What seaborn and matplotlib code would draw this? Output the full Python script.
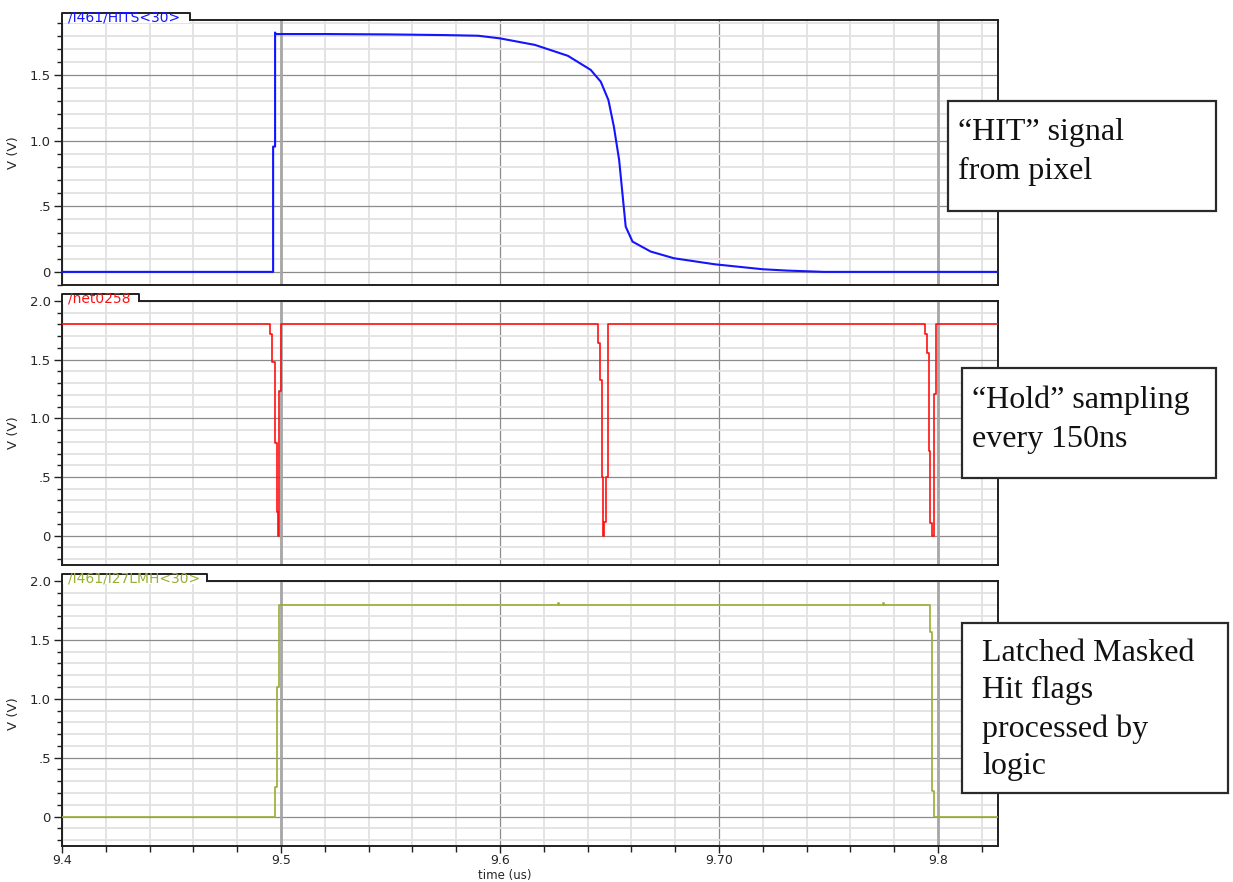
import matplotlib
matplotlib.use("Agg")
import matplotlib.pyplot as plt
import seaborn as sns
import pandas as pd
from matplotlib.patches import Rectangle
from matplotlib.lines import Line2D
from matplotlib.ticker import MultipleLocator, FixedLocator, FixedFormatter

# ---- waveform data (time in us, voltage in V) ----
hits_t = [9.4, 9.4964, 9.4964, 9.4973, 9.4973, 9.4976, 9.52, 9.55, 9.575, 9.59,
          9.6, 9.616, 9.631, 9.6414, 9.646, 9.6495, 9.652, 9.6544, 9.6562, 9.6574,
          9.6605, 9.6688, 9.6794, 9.698, 9.72, 9.731, 9.748, 9.8274]
hits_v = [0.0, 0.0, 0.955, 0.955, 1.825, 1.813, 1.813, 1.81, 1.805, 1.80,
          1.78, 1.73, 1.647, 1.54, 1.45, 1.31, 1.107, 0.853, 0.548, 0.345,
          0.231, 0.155, 0.104, 0.058, 0.02, 0.01, 0.0, 0.0]

hold_t = [9.4, 9.4950, 9.4960, 9.4971, 9.4980, 9.4986, 9.4992, 9.4999,
          9.64486, 9.64575, 9.6465, 9.6471, 9.6476, 9.6482, 9.6491,
          9.7941, 9.7949, 9.7958, 9.7965, 9.7973, 9.7983, 9.7991, 9.8274]
hold_v = [1.8, 1.72, 1.48, 0.79, 0.20, 0.0, 1.23, 1.8,
          1.64, 1.33, 0.50, 0.0, 0.12, 0.5, 1.8,
          1.72, 1.56, 0.72, 0.11, 0.0, 1.21, 1.8, 1.8]

lmh_t = [9.4, 9.49727, 9.49832, 9.4991, 9.6264, 9.6268, 9.775, 9.7754,
         9.7965, 9.7973, 9.7980, 9.8274]
lmh_v = [0.0, 0.255, 1.10, 1.80, 1.81, 1.80, 1.81, 1.80,
         1.57, 0.22, 0.0, 0.0]

signal_names = ["/I461/HITS<30>", "/net0258", "/I461/I27LMH<30>"]
signal_colors = ["#1414ff", "#ff1010", "#96b032"]

x_ticks = [9.4, 9.5, 9.6, 9.7, 9.8]
x_tick_labels = ["9.4", "9.5", "9.6", "9.70", "9.8"]
y_ticks_top = [0.0, 0.5, 1.0, 1.5]
y_labels_top = ["0", ".5", "1.0", "1.5"]
y_ticks = [0.0, 0.5, 1.0, 1.5, 2.0]
y_labels = ["0", ".5", "1.0", "1.5", "2.0"]

notes = ["\u201cHIT\u201d signal\nfrom pixel",
         "\u201cHold\u201d sampling\nevery 150ns",
         "Latched Masked\nHit flags\nprocessed by\nlogic"]

# ---- figure ----
W, H = 1233, 882
sns.set_theme(style="ticks")
plt.rcParams["font.family"] = ["DejaVu Sans"]

fig = plt.figure(figsize=(W / 100, H / 100), dpi=100)
fig.patch.set_facecolor("white")


def fx(px):
    return px / W


def fy(py):
    return 1 - py / H


# panel boxes in pixels: (top, bottom)
panel_px = [(20, 285), (301, 565), (581, 846)]
left_px, right_px = 62, 998
axes = []
for top, bot in panel_px:
    ax = fig.add_axes([fx(left_px), fy(bot), fx(right_px - left_px), (bot - top) / H])
    axes.append(ax)

frames = [
    pd.DataFrame({"t": hits_t, "v": hits_v}),
    pd.DataFrame({"t": hold_t, "v": hold_v}),
    pd.DataFrame({"t": lmh_t, "v": lmh_v}),
]
ylims = [(-0.1, 1.92), (-0.25, 2.0), (-0.25, 2.0)]
widths = [1.5, 1.2, 1.2]
tick_fs = 9.5

for i, ax in enumerate(axes):
    ax.set_facecolor("white")
    ax.set_xlim(9.4, 9.8274)
    ax.set_ylim(*ylims[i])
    ax.xaxis.set_major_locator(FixedLocator(x_ticks))
    ax.xaxis.set_minor_locator(MultipleLocator(0.02))
    if i == 0:
        ax.yaxis.set_major_locator(FixedLocator(y_ticks_top))
        ax.yaxis.set_major_formatter(FixedFormatter(y_labels_top))
    else:
        ax.yaxis.set_major_locator(FixedLocator(y_ticks))
        ax.yaxis.set_major_formatter(FixedFormatter(y_labels))
    ax.yaxis.set_minor_locator(MultipleLocator(0.1))

    ax.grid(which="minor", color="#e2e2e2", linewidth=1.3, zorder=0)
    ax.grid(which="major", color="#8c8c8c", linewidth=0.9, zorder=0)
    ax.set_axisbelow(True)
    # cursor markers
    for xc in (9.5, 9.8):
        ax.axvline(xc, color="#a6a6a6", linewidth=2.0, zorder=1)

    for s in ax.spines.values():
        s.set_color("#202020")
        s.set_linewidth(1.4)

    ax.tick_params(axis="y", which="major", direction="out", length=6, width=1,
                   color="#202020", labelsize=tick_fs, pad=2)
    ax.tick_params(axis="y", which="minor", direction="out", length=3.5, width=1,
                   color="#202020")
    ax.tick_params(axis="y", which="both", right=False)

    drawstyle = "default" if i == 0 else "steps-post"
    sns.lineplot(data=frames[i], x="t", y="v", ax=ax, estimator=None, sort=False,
                 color=signal_colors[i], linewidth=widths[i], drawstyle=drawstyle,
                 zorder=3)
    ax.set_ylabel("V (V)", fontsize=tick_fs)
    ax.yaxis.set_label_coords(-0.045, 0.5)

    if i < 2:
        ax.set_xlabel("")
        ax.tick_params(axis="x", which="both", bottom=False, top=False,
                       labelbottom=False)
    else:
        ax.xaxis.set_major_formatter(FixedFormatter(x_tick_labels))
        ax.tick_params(axis="x", which="major", direction="out", length=5, width=1,
                       color="#202020", labelsize=9, pad=1)
        ax.tick_params(axis="x", which="minor", direction="out", length=4, width=1,
                       color="#202020")
        ax.set_xlabel("time (us)", fontsize=8.5)
        ax.xaxis.set_label_coords(0.473, -0.088)

# ---- signal name tabs ----
tab_right = [190, 139, 207]
for i, (top, bot) in enumerate(panel_px):
    t0 = top - 7.5
    fig.add_artist(Rectangle((fx(left_px + 1), fy(top + 3)), fx(tab_right[i] - left_px - 2),
                             (top + 3 - t0) / H, transform=fig.transFigure,
                             facecolor="white", edgecolor="none", zorder=5))
    fig.add_artist(Line2D([fx(left_px), fx(left_px), fx(tab_right[i]), fx(tab_right[i])],
                          [fy(top), fy(t0), fy(t0), fy(top)],
                          transform=fig.transFigure, color="#202020", linewidth=1.4,
                          zorder=6))
    fig.text(fx(left_px + 6), fy(top - 2.5), signal_names[i], color=signal_colors[i],
             fontsize=10, va="center", ha="left", zorder=7)

# ---- annotation boxes ----
boxes = [(948, 101, 1216, 211), (962, 368, 1216, 478), (962, 623, 1228, 793)]
text_pos = [(958, 152), (972, 420), (982, 710)]
spacing = [1.47, 1.47, 1.39]
for (x0, y0, x1, y1), (tx, ty), note, ls in zip(boxes, text_pos, notes, spacing):
    fig.add_artist(Rectangle((fx(x0), fy(y1)), fx(x1 - x0), (y1 - y0) / H,
                             transform=fig.transFigure, facecolor="white",
                             edgecolor="#2a2a2a", linewidth=1.6, zorder=8))
    fig.text(fx(tx), fy(ty), note, fontsize=23, family="Liberation Serif",
             color="#111111", va="center", ha="left", linespacing=ls, zorder=9)

fig.savefig("out.png", dpi=100, facecolor="white")
